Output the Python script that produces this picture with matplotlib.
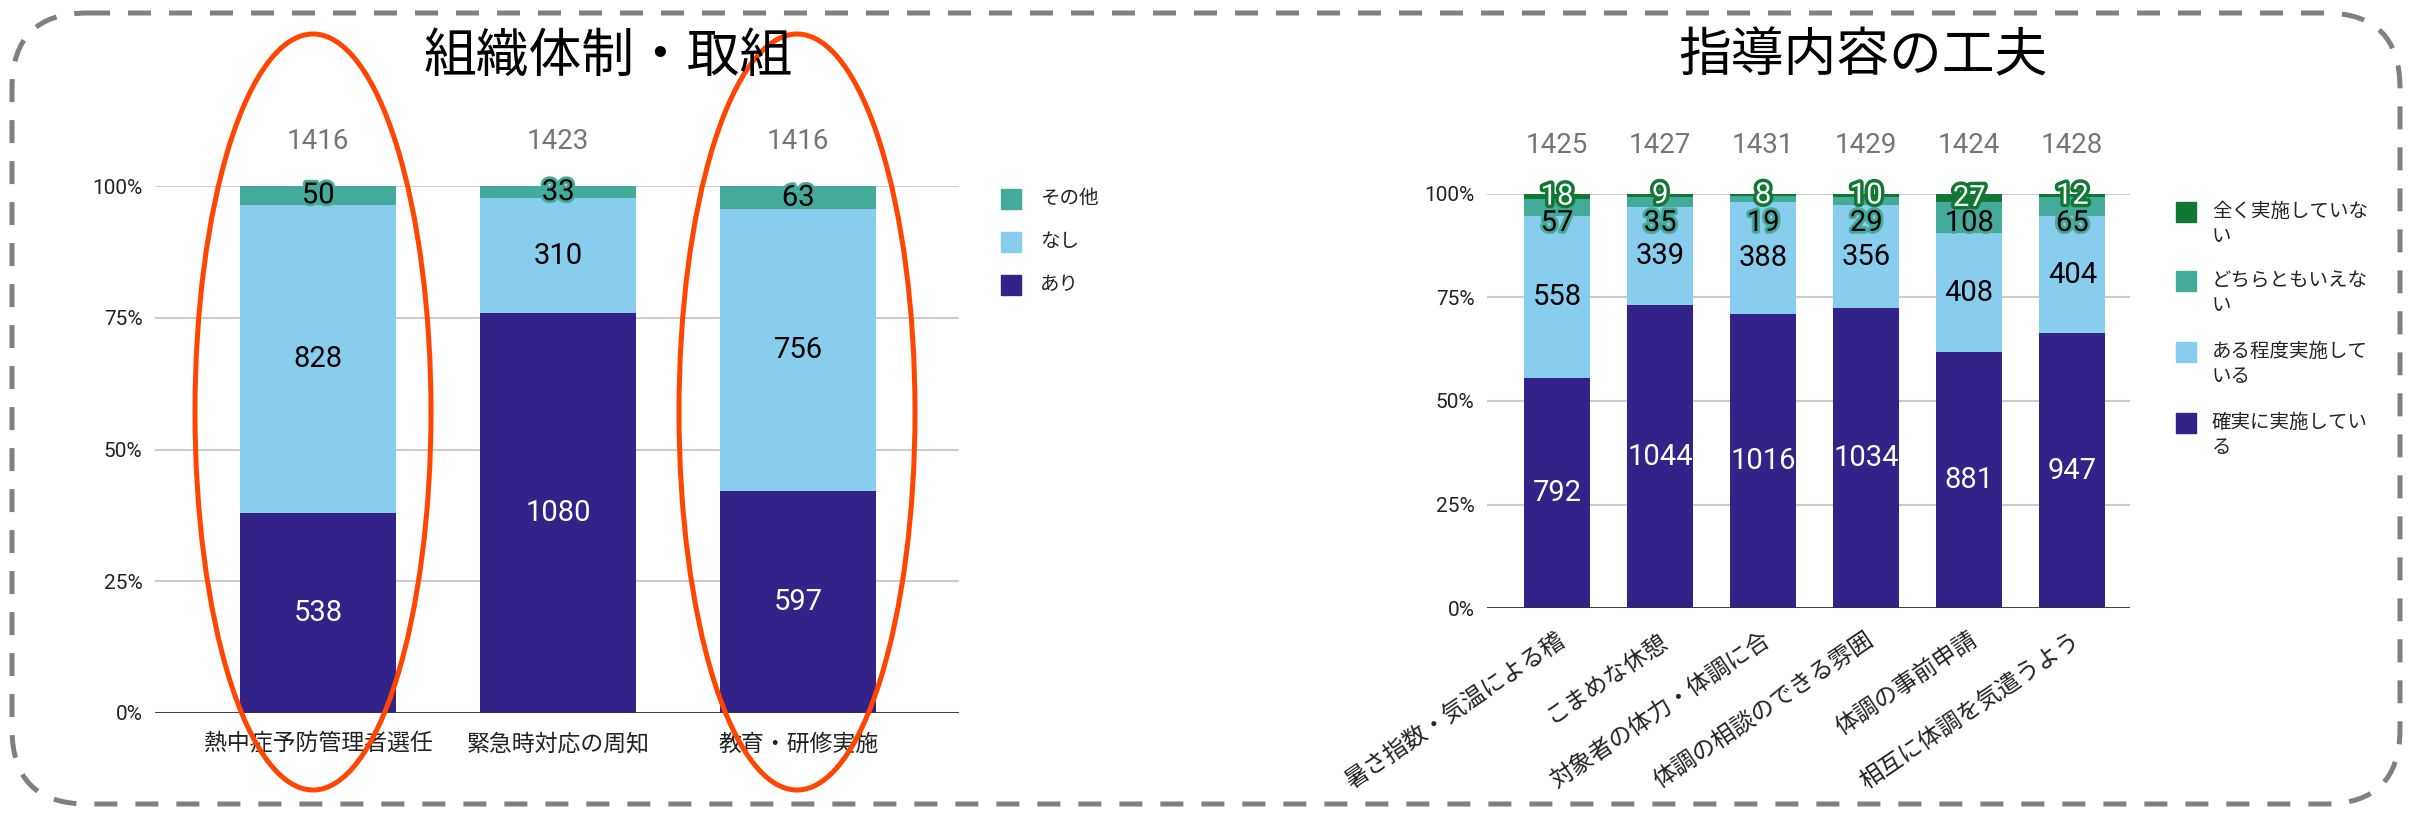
import matplotlib.pyplot as plt
import matplotlib.patheffects as pe
import matplotlib.transforms as mtransforms
from matplotlib.patches import Ellipse, FancyBboxPatch, Rectangle
import numpy as np

plt.rcParams['font.family'] = ['Roboto', 'Noto Sans CJK JP', 'DejaVu Sans']

# ---- 組織体制・取組 ----
org_title = '組織体制・取組'
org_cats = ['熱中症予防管理者選任', '緊急時対応の周知', '教育・研修実施']
org_yes = [538, 1080, 597]
org_no = [828, 310, 756]
org_other = [50, 33, 63]
org_names = ['あり', 'なし', 'その他']

# ---- 指導内容の工夫 ----
guide_title = '指導内容の工夫'
guide_cats = ['暑さ指数・気温による稽', 'こまめな休憩', '対象者の体力・体調に合',
              '体調の相談のできる雰囲', '体調の事前申請', '相互に体調を気遣うよう']
guide_sure = [792, 1044, 1016, 1034, 881, 947]
guide_some = [558, 339, 388, 356, 408, 404]
guide_neither = [57, 35, 19, 29, 108, 65]
guide_none = [18, 9, 8, 10, 27, 12]
guide_names = ['確実に実施している', 'ある程度実施している', 'どちらともいえない', '全く実施していない']

NAVY = '#332288'
SKY = '#88CCEE'
TEAL = '#44AA99'
GREEN = '#117733'

W, H = 2415, 814
fig = plt.figure(figsize=(W / 100, H / 100), dpi=100)


def px_axes(x0, y0, x1, y1):
    return fig.add_axes([x0 / W, 1 - y1 / H, (x1 - x0) / W, (y1 - y0) / H])


def label_style(color):
    # 濃い色の上は白文字、小さい区分は縁取り付き
    if color == NAVY:
        return dict(color='white'), None
    if color == SKY:
        return dict(color='black'), None
    if color == TEAL:
        return dict(color='black'), [pe.withStroke(linewidth=4, foreground=TEAL)]
    return dict(color='white'), [pe.withStroke(linewidth=5, foreground=GREEN)]


def stacked(ax, cats, series, colors, width, xlim, top_offset, cap=None):
    vals = np.array(series, dtype=float)
    totals = vals.sum(axis=0)
    frac = vals / totals
    x = np.arange(len(cats))
    bottom = np.zeros(len(cats))
    for k, (f, c) in enumerate(zip(frac, colors)):
        ax.bar(x, f, width, bottom=bottom, color=c, zorder=2)
        for i in range(len(cats)):
            y = bottom[i] + f[i] / 2
            if cap is not None and k == len(colors) - 2:
                y = min(y, cap)
            kw, eff = label_style(c)
            t = ax.text(x[i], y, f'{int(vals[k, i])}', ha='center', va='center',
                        fontsize=21, zorder=3, clip_on=False, **kw)
            if eff:
                t.set_path_effects(eff)
        bottom += f
    for i, tot in enumerate(totals):
        ax.annotate(f'{int(tot)}', (x[i], 1.0), xytext=(0, top_offset),
                    textcoords='offset points', ha='center', va='center',
                    fontsize=20, color='#757575')
    ax.set_xlim(*xlim)
    ax.set_ylim(0, 1)
    ticks = [0, 0.25, 0.5, 0.75, 1.0]
    ax.set_yticks(ticks)
    ax.set_yticklabels([f'{int(t * 100)}%' for t in ticks])
    ax.yaxis.grid(True, color='#cccccc', lw=1.5, zorder=0)
    ax.set_axisbelow(True)
    ax.axhline(0, color='#333333', lw=2, zorder=4)
    for s in ax.spines.values():
        s.set_visible(False)
    ax.tick_params(axis='y', length=0, labelsize=15, labelcolor='#222222', pad=9)
    ax.tick_params(axis='x', length=0)
    ax.set_xticks(x)


ax1 = px_axes(155, 186, 959, 713)
stacked(ax1, org_cats, [org_yes, org_no, org_other], [NAVY, SKY, TEAL],
        0.65, (-0.68, 2.67), 32)
ax1.set_xticklabels(org_cats, fontsize=16.5, color='#222222')
ax1.tick_params(axis='x', pad=14)

ax2 = px_axes(1487, 194, 2130, 608)
stacked(ax2, guide_cats, [guide_sure, guide_some, guide_neither, guide_none],
        [NAVY, SKY, TEAL, GREEN], 0.64, (-0.68, 5.56), 35, cap=0.93)
ax2.set_xticklabels(guide_cats, fontsize=17, color='#222222', rotation=34,
                    ha='right', va='center', rotation_mode='anchor')
ax2.tick_params(axis='x', pad=22)
shift = mtransforms.ScaledTranslation(6 / 100, 0, fig.dpi_scale_trans)
for lbl in ax2.get_xticklabels():
    lbl.set_transform(lbl.get_transform() + shift)

# 重ね描き用の全面座標 (ピクセル単位)
ov = fig.add_axes([0, 0, 1, 1], zorder=10)
ov.set_xlim(0, W)
ov.set_ylim(H, 0)
ov.axis('off')
ov.patch.set_alpha(0)

ov.add_patch(FancyBboxPatch((12, 13), 2388, 791,
                            boxstyle='round,pad=0,rounding_size=75',
                            fill=False, ec='#808080', lw=3.6,
                            ls=(0, (4.6, 3.6))))

ov.text(608, 57, org_title, fontsize=38, ha='center', va='center')
ov.text(1863, 57, guide_title, fontsize=38, ha='center', va='center')

# 凡例 (左)
for name, c, y in zip(org_names[::-1], [TEAL, SKY, NAVY], [199, 242, 285]):
    ov.add_patch(Rectangle((1001, y - 10), 20, 20, color=c))
    ov.text(1040, y, name, fontsize=14, va='center', color='#222222')

# 凡例 (右) 8文字で折り返し
for name, c, y in zip(guide_names[::-1], [GREEN, TEAL, SKY, NAVY], [212, 281, 352, 423]):
    ov.add_patch(Rectangle((2176, y - 10), 20, 20, color=c))
    ov.text(2212, y, name[:8], fontsize=14, va='center', color='#222222')
    ov.text(2212, y + 25, name[8:], fontsize=14, va='center', color='#222222')

# 強調の楕円
for cx in [313, 797]:
    ov.add_patch(Ellipse((cx, 412), 236, 756, fill=False, ec='#FF4500', lw=3.6))

fig.savefig('out.png', dpi=100)
